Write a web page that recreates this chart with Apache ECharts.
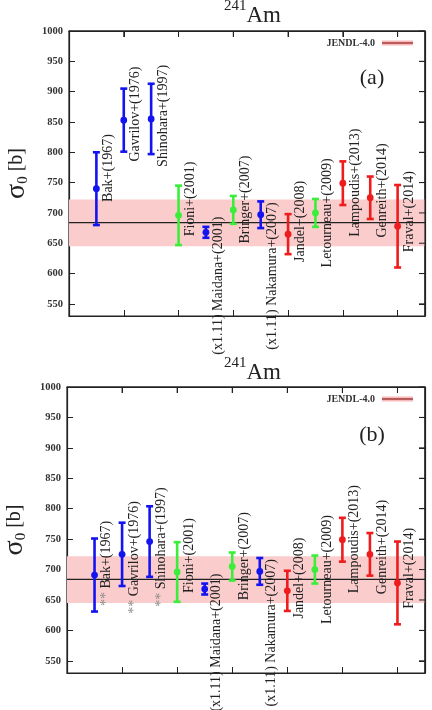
<!DOCTYPE html>
<html>
<head>
<meta charset="utf-8">
<script src="https://cdn.jsdelivr.net/npm/echarts@6/dist/echarts.min.js"></script>
<style>
  html, body { margin: 0; background: #fff; overflow: hidden; }
  #chart { width: 432px; height: 710px; }
</style>
</head>
<body>
<div id="chart"></div>
<script>
// measurements of the thermal capture cross section of 241Am
const names = [
  'Bak+(1967)', 'Gavrilov+(1976)', 'Shinohara+(1997)', 'Fioni+(2001)',
  '(x1.11) Maidana+(2001)', 'Bringer+(2007)', '(x1.11) Nakamura+(2007)',
  'Jandel+(2008)', 'Letourneau+(2009)', 'Lampoudis+(2013)',
  'Genreith+(2014)', 'Fraval+(2014)'
]
// method group of each measurement (0 blue, 1 green, 2 red)
const groups = [0, 0, 0, 1, 0, 1, 0, 2, 1, 2, 2, 2]

// panel (a): original values
const valuesA = [740, 853, 855, 696, 668, 705, 697, 665, 700, 749, 725, 678]
const errorsA = [60, 52, 58, 49, 9, 23, 22, 33, 23, 36, 35, 68]
const labelAtA = [774, 863, 860, 723, 580, 722, 596, 686, 700, 750, 737, 702]

// panel (b): corrected old values, marked with **
const valuesB = [691, 725, 746, 696, 668, 705, 697, 665, 700, 749, 725, 678]
const errorsB = [60, 52, 58, 49, 9, 23, 22, 33, 23, 36, 35, 68]
const labelAtB = [710, 720, 737, 723, 580, 722, 596, 686, 700, 750, 737, 702]
const starredB = [1, 1, 1, 0, 0, 0, 0, 0, 0, 0, 0, 0]

// JENDL-4.0 evaluation and its uncertainty band
const jendl = 684
const jendlBand = [645, 722]

const yTicks = [550, 600, 650, 700, 750, 800, 850, 900, 950, 1000]
const xTicks = [2, 4, 6, 8, 10, 12]
const xMin = 0
const xMax = 13
const yMin = 530
const yMax = 1000

const palette = ['#1414f0', '#3aee3a', '#ee1c1c']
const serif = '"Liberation Serif", "Times New Roman", serif'

function buildData(values, errors, labelAt, starred) {
  return values.map((v, i) => ({
    name: names[i],
    value: [i + 1, v, errors[i], labelAt[i], groups[i], starred ? starred[i] : 0]
  }))
}

function renderErrorBar(params, api) {
  const x = api.value(0)
  const y = api.value(1)
  const e = api.value(2)
  const c = api.coord([x, y])
  const top = api.coord([x, y + e])
  const bot = api.coord([x, y - e])
  const lab = api.coord([x, api.value(3)])
  const color = palette[api.value(4)]
  const name = names[params.dataIndex]
  const text = api.value(5) ? '{s|** }{t|' + name + '}' : '{t|' + name + '}'
  const cap = 3.5
  return {
    type: 'group',
    children: [
      { type: 'line', shape: { x1: c[0], y1: top[1], x2: c[0], y2: bot[1] },
        style: { stroke: color, lineWidth: 2.6 } },
      { type: 'line', shape: { x1: c[0] - cap, y1: top[1], x2: c[0] + cap, y2: top[1] },
        style: { stroke: color, lineWidth: 2.6 } },
      { type: 'line', shape: { x1: c[0] - cap, y1: bot[1], x2: c[0] + cap, y2: bot[1] },
        style: { stroke: color, lineWidth: 2.6 } },
      { type: 'circle', shape: { cx: c[0], cy: c[1], r: 3.4 }, style: { fill: color } },
      { type: 'text', x: lab[0] + 12, y: lab[1], rotation: Math.PI / 2,
        style: {
          text: text, align: 'center', verticalAlign: 'middle',
          rich: {
            s: { fill: '#8a8a8a', fontSize: 14, fontFamily: serif },
            t: { fill: '#222', fontSize: 14, fontFamily: serif }
          }
        } }
    ]
  }
}

function yAxes(g) {
  const line = { show: true, onZero: false, lineStyle: { color: '#222', width: 1.2 } }
  const tick = { show: true, inside: true, length: 6, customValues: yTicks,
    lineStyle: { color: '#222', width: 1 } }
  return [
    {
      type: 'value', gridIndex: g, min: yMin, max: yMax, position: 'left',
      axisLine: line, axisTick: tick, splitLine: { show: false },
      axisLabel: { show: true, customValues: yTicks, margin: 6, color: '#333',
        fontFamily: serif, fontWeight: 'bold', fontSize: 10.5, formatter: v => String(v) },
      name: '{s|σ}{sub|0}{b| [b]}',
      nameLocation: 'middle', nameRotate: 90, nameGap: 38,
      nameTextStyle: {
        color: '#222',
        rich: {
          s: { fontSize: 28, fontFamily: serif, color: '#222' },
          sub: { fontSize: 15, fontFamily: serif, color: '#222', verticalAlign: 'bottom', padding: [10, 0, 0, 0] },
          b: { fontSize: 20, fontFamily: serif, color: '#222' }
        }
      }
    },
    {
      type: 'value', gridIndex: g, min: yMin, max: yMax, position: 'right',
      axisLine: { show: true, onZero: false, lineStyle: { color: '#222', width: 1.2 } },
      axisTick: { show: true, inside: true, length: 6, customValues: yTicks,
        lineStyle: { color: '#222', width: 1 } },
      splitLine: { show: false },
      axisLabel: { show: true, customValues: yTicks, color: 'rgba(0,0,0,0)', fontSize: 1 }
    }
  ]
}

function xAxes(g) {
  return ['bottom', 'top'].map(pos => ({
    type: 'value', gridIndex: g, min: xMin, max: xMax, interval: 2, position: pos,
    axisLine: { show: true, onZero: false, lineStyle: { color: '#222', width: 1.2 } },
    axisTick: { show: true, inside: true, length: 6, lineStyle: { color: '#222', width: 1 } },
    axisLabel: { show: true, color: 'rgba(0,0,0,0)', fontSize: 1 },
    splitLine: { show: false }
  }))
}

// JENDL-4.0 line across the panel, with its uncertainty band
function jendlSeries(g) {
  return {
    type: 'line', xAxisIndex: g * 2 + 1, yAxisIndex: g * 2 + 1, z: 1, silent: true,
    data: [[xMin, jendl], [xMax, jendl]],
    showSymbol: false,
    lineStyle: { color: '#222', width: 1.2 },
    markArea: {
      silent: true,
      itemStyle: { color: '#fbcccc' },
      data: [[{ yAxis: jendlBand[0] }, { yAxis: jendlBand[1] }]]
    }
  }
}

function panelTitle(top) {
  return {
    text: '{sup|241}{am|Am}', left: 219, top: top,
    textStyle: {
      fontWeight: 'normal',
      rich: {
        sup: { fontSize: 15, fontFamily: serif, fontWeight: 'normal', color: '#222', verticalAlign: 'top', lineHeight: 26 },
        am: { fontSize: 23, fontFamily: serif, fontWeight: 'normal', color: '#222', lineHeight: 26, padding: [8, 0, 0, 0] }
      }
    }
  }
}

function legendGraphic(y) {
  return [
    { type: 'text', x: 375, y: y,
      style: { text: 'JENDL-4.0', align: 'right', verticalAlign: 'middle',
        fontFamily: serif, fontWeight: 'bold', fontSize: 10, fill: '#333' } },
    { type: 'rect', shape: { x: 382, y: y - 2.5, width: 31, height: 5 }, style: { fill: '#f7b9b9' } },
    { type: 'line', shape: { x1: 382, y1: y, x2: 413, y2: y }, style: { stroke: '#9b2a2a', lineWidth: 1.3 } }
  ]
}

const baseGraphic = legendGraphic(43).concat(legendGraphic(399)).concat([
  { type: 'text', x: 372, y: 78,
    style: { text: '(a)', align: 'center', verticalAlign: 'middle', fontFamily: serif, fontSize: 22, fill: '#222' } },
  { type: 'text', x: 372, y: 435,
    style: { text: '(b)', align: 'center', verticalAlign: 'middle', fontFamily: serif, fontSize: 22, fill: '#222' } }
])

const option = {
  animation: false,
  title: [panelTitle(-6), panelTitle(351)],
  grid: [
    { left: 69, top: 31, width: 356, height: 285, outerBoundsMode: 'none', containLabel: false,
      show: true, borderColor: '#222', borderWidth: 1.2, backgroundColor: 'rgba(0,0,0,0)' },
    { left: 67, top: 387, width: 358, height: 286, outerBoundsMode: 'none', containLabel: false,
      show: true, borderColor: '#222', borderWidth: 1.2, backgroundColor: 'rgba(0,0,0,0)' }
  ],
  xAxis: xAxes(0).concat(xAxes(1)),
  yAxis: yAxes(0).concat(yAxes(1)),
  graphic: baseGraphic,
  series: [
    jendlSeries(0),
    jendlSeries(1),
    { type: 'custom', xAxisIndex: 0, yAxisIndex: 0, z: 3, clip: false,
      renderItem: renderErrorBar, data: buildData(valuesA, errorsA, labelAtA, null) },
    { type: 'custom', xAxisIndex: 2, yAxisIndex: 2, z: 3, clip: false,
      renderItem: renderErrorBar, data: buildData(valuesB, errorsB, labelAtB, starredB) }
  ]
}

const chart = echarts.init(document.getElementById('chart'))
chart.setOption(option)

// top and right frame edges with mirrored inward ticks, placed through the axis scales
const frame = []
;[0, 2].forEach(ax => {
  const finder = { xAxisIndex: ax, yAxisIndex: ax }
  const tl = chart.convertToPixel(finder, [xMin, yMax])
  const br = chart.convertToPixel(finder, [xMax, yMin])
  if (!tl || !br) return
  const stroke = { stroke: '#222', lineWidth: 1.2 }
  frame.push({ type: 'line', z: 50, shape: { x1: tl[0], y1: tl[1], x2: br[0], y2: tl[1] }, style: stroke })
  frame.push({ type: 'line', z: 50, shape: { x1: br[0], y1: tl[1], x2: br[0], y2: br[1] }, style: stroke })
  yTicks.forEach(v => {
    const p = chart.convertToPixel(finder, [xMax, v])
    frame.push({ type: 'line', z: 50, shape: { x1: p[0], y1: p[1], x2: p[0] - 6, y2: p[1] },
      style: { stroke: '#222', lineWidth: 1 } })
  })
  xTicks.forEach(v => {
    const p = chart.convertToPixel(finder, [v, yMax])
    frame.push({ type: 'line', z: 50, shape: { x1: p[0], y1: p[1], x2: p[0], y2: p[1] + 6 },
      style: { stroke: '#222', lineWidth: 1 } })
  })
})
chart.setOption({ graphic: baseGraphic.concat(frame) })
</script>
</body>
</html>
